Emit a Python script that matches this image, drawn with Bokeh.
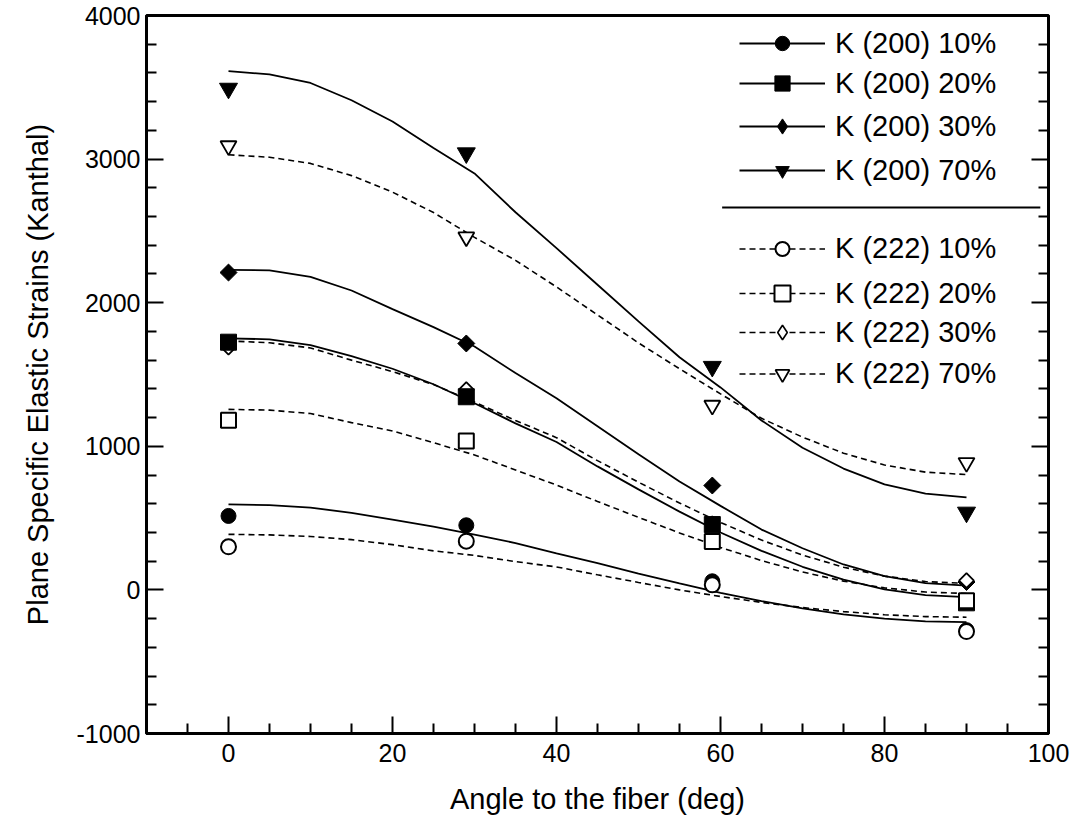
import numpy as np
from bokeh.plotting import figure
from bokeh.models import (Range1d, FixedTicker, LinearAxis, Legend, LegendItem,
                          CustomJSTickFormatter)
from bokeh.embed import file_html
from bokeh.resources import INLINE

# ---------------- data ----------------
angles = [0, 29, 59, 90]
k200_10 = [515, 450, 60, -280]
k200_20 = [1725, 1345, 455, -90]
k200_30 = [2210, 1716, 727, 55]
k200_70 = [3492, 3042, 1555, 540]
k222_10 = [300, 339, 35, -290]
k222_20 = [1181, 1037, 337, -75]
k222_30 = [1690, 1395, 460, 65]
k222_70 = [3092, 2457, 1285, 886]

fit_x = [0, 5, 10, 15, 20, 25, 30, 35, 40, 45, 50, 55, 60, 65, 70, 75, 80, 85, 90]
fit_200_70 = [3613, 3590, 3530, 3410, 3262, 3078, 2900, 2630, 2380, 2125, 1870, 1620, 1410, 1180, 990, 845, 735, 670, 645]
fit_222_70 = [3030, 3013, 2970, 2885, 2770, 2628, 2455, 2295, 2110, 1915, 1720, 1540, 1365, 1195, 1064, 952, 870, 820, 803]
fit_200_30 = [2229, 2225, 2180, 2085, 1955, 1830, 1695, 1510, 1335, 1140, 945, 755, 585, 420, 290, 177, 96, 47, 30]
fit_222_30 = [1734, 1721, 1685, 1600, 1520, 1430, 1308, 1180, 1060, 900, 750, 605, 470, 347, 243, 158, 96, 58, 45]
fit_200_20 = [1752, 1745, 1705, 1628, 1540, 1432, 1300, 1160, 1030, 860, 700, 545, 400, 272, 161, 71, 4, -36, -50]
fit_222_20 = [1257, 1252, 1228, 1165, 1107, 1025, 940, 835, 730, 616, 505, 397, 296, 204, 125, 61, 14, -15, -25]
fit_200_10 = [596, 590, 573, 537, 490, 440, 385, 326, 255, 186, 114, 45, -20, -78, -129, -170, -200, -219, -225]
fit_222_10 = [387, 383, 372, 350, 315, 272, 240, 197, 160, 105, 52, 0, -46, -87, -123, -151, -173, -186, -190]

labels_200 = ["K (200) 10%", "K (200) 20%", "K (200) 30%", "K (200) 70%"]
labels_222 = ["K (222) 10%", "K (222) 20%", "K (222) 30%", "K (222) 70%"]

x_tick_values = [0, 20, 40, 60, 80, 100]
x_tick_labels = ["0", "20", "40", "60", "80", "100"]
y_tick_values = [-1000, 0, 1000, 2000, 3000, 4000]
y_tick_labels = ["-1000", "0", "1000", "2000", "3000", "4000"]

x_title = "Angle to the fiber (deg)"
y_title = "Plane Specific Elastic Strains (Kanthal)"

# ---------------- figure ----------------
FONT = "Liberation Sans"
FRAME_L, FRAME_T, FRAME_R, FRAME_B = 146, 15, 1048, 733
W, H = 1075, 829

p = figure(width=W, height=H, x_range=Range1d(-10, 100), y_range=Range1d(-1000, 4000),
           output_backend="svg", toolbar_location=None,
           min_border_left=FRAME_L, min_border_right=W - FRAME_R,
           min_border_top=FRAME_T, min_border_bottom=H - FRAME_B)
p.grid.visible = False
p.outline_line_color = "black"
p.outline_line_width = 3
p.background_fill_color = "white"
p.border_fill_color = "white"

x_minor = [v for v in np.arange(-5, 100, 5) if v not in x_tick_values]
y_minor = [v for v in np.arange(-1000, 4001, 200) if v not in y_tick_values]
xt = FixedTicker(ticks=x_tick_values, minor_ticks=x_minor)
yt = FixedTicker(ticks=y_tick_values, minor_ticks=y_minor)


def style_axis(ax):
    ax.axis_line_width = 3
    ax.axis_line_color = "black"
    ax.major_tick_in = 17
    ax.major_tick_out = 0
    ax.minor_tick_in = 10
    ax.minor_tick_out = 0
    ax.major_tick_line_width = 2
    ax.minor_tick_line_width = 2
    ax.major_tick_line_color = "black"
    ax.minor_tick_line_color = "black"
    ax.major_label_text_font = FONT
    ax.major_label_text_font_size = "25px"
    ax.major_label_text_color = "black"
    ax.axis_label_text_font = FONT
    ax.axis_label_text_font_size = "29px"
    ax.axis_label_text_font_style = "normal"
    ax.axis_label_text_color = "black"


xa = p.xaxis[0]
xa.ticker = xt
xa.major_label_overrides = dict(zip(x_tick_values, x_tick_labels))
style_axis(xa)
xa.major_label_standoff = 10
xa.axis_label = x_title
xa.axis_label_standoff = 18

ya = p.yaxis[0]
ya.ticker = yt
ya.major_label_overrides = dict(zip(y_tick_values, y_tick_labels))
style_axis(ya)
ya.major_label_standoff = 6
ya.axis_label = y_title
ya.axis_label_standoff = 20

ra = LinearAxis(ticker=yt, formatter=CustomJSTickFormatter(code="return ''"))
style_axis(ra)
ra.major_label_standoff = 0
p.add_layout(ra, "right")

# ---------------- curves ----------------
curves = [
    (fit_200_10, None), (fit_200_20, None), (fit_200_30, None), (fit_200_70, None),
    (fit_222_10, "6 4"), (fit_222_20, "6 4"), (fit_222_30, "6 4"), (fit_222_70, "6 4"),
]
line_r = []
for ys, dash in curves:
    if dash is None:
        r = p.line(fit_x, ys, line_color="black", line_width=1.8)
    else:
        r = p.line(fit_x, ys, line_color="black", line_width=1.6, line_dash=dash)
    line_r.append(r)

# ---------------- markers ----------------
D = np.pi / 4
m = {}
m["200_10"] = p.scatter(angles, k200_10, marker="circle", size=15, fill_color="black", line_color="black")
# narrow diamond used as legend swatch (legend ignores marker angle); hidden under the rotated squares
m["200_30_leg"] = p.scatter(angles, k200_30, marker="diamond", size=10, fill_color="black", line_color="black")
m["200_30"] = p.scatter(angles, k200_30, marker="square", angle=D, size=12, fill_color="black", line_color="black")
m["222_10"] = p.scatter(angles, k222_10, marker="circle", size=15, fill_color="white", line_color="black", line_width=2)
m["222_30_leg"] = p.scatter(angles, k222_30, marker="diamond", size=8, fill_color="white", line_color="black", line_width=1.6)
m["222_30"] = p.scatter(angles, k222_30, marker="square", angle=D, size=10.5, fill_color="white", line_color="black", line_width=1.8)
m["200_20"] = p.scatter(angles, k200_20, marker="square", size=16, fill_color="black", line_color="black")
m["222_20"] = p.scatter(angles, k222_20, marker="square", size=15, fill_color="white", line_color="black", line_width=2)
m["200_70"] = p.scatter(angles, k200_70, marker="inverted_triangle", size=18, fill_color="black", line_color="black")
m["222_70"] = p.scatter(angles, k222_70, marker="inverted_triangle", size=16, fill_color="white", line_color="black", line_width=1.8)

# ---------------- legend (one row per legend box) ----------------
rows = [
    (labels_200[0], 0, "200_10", 43, 36),
    (labels_200[1], 1, "200_20", 83, 38),
    (labels_200[2], 2, "200_30_leg", 126, 38),
    (labels_200[3], 3, "200_70", 170, 34),
    (labels_222[0], 4, "222_10", 248, 35),
    (labels_222[1], 5, "222_20", 293, 40),
    (labels_222[2], 6, "222_30_leg", 332, 36),
    (labels_222[3], 7, "222_70", 373, 35),
]
GLYPH_X0 = 739
for label, li, key, yc, g in rows:
    h = max(g, 33)
    vy = FRAME_B - (yc + h / 2)
    leg = Legend(items=[LegendItem(label=label, renderers=[line_r[li], m[key]])],
                 location=(GLYPH_X0 - FRAME_L, vy),
                 glyph_width=86, glyph_height=g, label_height=g,
                 padding=0, margin=0, spacing=0, label_standoff=10,
                 border_line_color=None, background_fill_alpha=0,
                 label_text_font=FONT, label_text_font_size="29px",
                 label_text_color="black")
    p.add_layout(leg)

# separator line in legend
p.segment(x0=[60.2], y0=[2663], x1=[99.0], y1=[2663], line_color="black", line_width=2)

open("out.html", "w").write(file_html(p, INLINE))
